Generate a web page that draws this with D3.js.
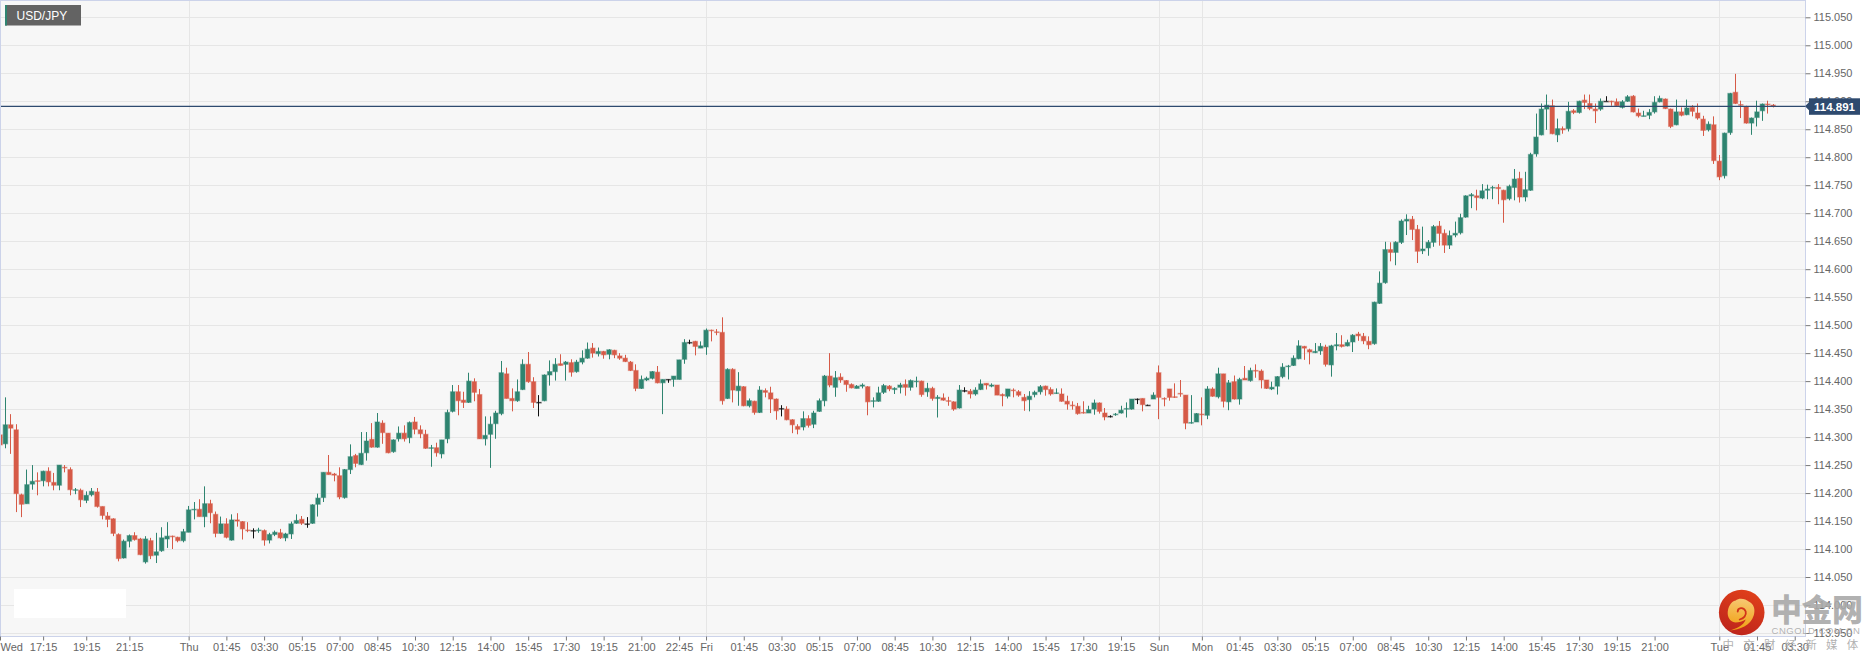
<!DOCTYPE html>
<html><head><meta charset="utf-8">
<script src="https://cdn.jsdelivr.net/npm/d3@7"></script>
<style>html,body{margin:0;padding:0;background:#fff;overflow:hidden}svg{display:block}</style>
</head><body><div id="chart"></div>
<script>
const symbol = "USD/JPY";
const lastPrice = 114.891;
const yTicks = [113.95,114.00,114.05,114.10,114.15,114.20,114.25,114.30,114.35,114.40,114.45,114.50,114.55,114.60,114.65,114.70,114.75,114.80,114.85,114.90,114.95,115.00,115.05];
const xTickBars = [0,8,16,24,35,42,49,56,63,70,77,84,91,98,105,112,119,126,131,138,145,152,159,166,173,180,187,194,201,208,215,223,230,237,244,251,258,265,272,279,286,293,300,307,319,326,333];
const xTickLabels = ["Wed","17:15","19:15","21:15","Thu","01:45","03:30","05:15","07:00","08:45","10:30","12:15","14:00","15:45","17:30","19:15","21:00","22:45","Fri","01:45","03:30","05:15","07:00","08:45","10:30","12:15","14:00","15:45","17:30","19:15","Sun","Mon","01:45","03:30","05:15","07:00","08:45","10:30","12:15","14:00","15:45","17:30","19:15","21:00","Tue","01:45","03:30"];
const dayBars = [35,131,215,223,319];
const opens = [
114.304,114.288,114.322,114.313,114.197,114.181,114.216,114.222,114.222,114.239,
114.219,114.214,114.246,114.242,114.205,114.205,114.187,114.197,114.202,114.176,
114.159,114.154,114.126,114.084,114.114,114.124,114.118,114.077,114.115,114.089,
114.097,114.118,114.123,114.121,114.115,114.130,114.170,114.171,114.158,114.181,
114.162,114.128,114.145,114.116,114.152,114.149,114.134,114.133,114.133,114.133,
114.116,114.126,114.129,114.120,114.127,114.146,114.153,114.145,114.146,114.180,
114.192,114.237,114.234,114.231,114.192,114.242,114.267,114.251,114.272,114.296,
114.282,114.325,114.307,114.274,114.297,114.307,114.299,114.327,114.313,114.305,
114.280,114.281,114.270,114.297,114.346,114.381,114.366,114.362,114.399,114.376,
114.297,114.305,114.324,114.342,114.413,114.369,114.365,114.385,114.430,114.399,
114.362,114.365,114.411,114.417,114.431,114.430,114.433,114.417,114.434,114.441,
114.459,114.449,114.453,114.448,114.455,114.445,114.441,114.434,114.419,114.387,
114.402,114.405,114.416,114.397,114.403,114.403,114.403,114.439,114.469,114.471,
114.459,114.461,114.491,114.488,114.487,114.369,114.421,114.383,114.390,114.356,
114.364,114.344,114.383,114.379,114.368,114.351,114.350,114.331,114.319,114.318,
114.333,114.323,114.346,114.365,114.409,114.389,114.407,114.401,114.394,114.387,
114.391,114.390,114.364,114.364,114.380,114.391,114.385,114.389,114.394,114.389,
114.399,114.400,114.381,114.387,114.369,114.370,114.365,114.363,114.352,114.383,
114.382,114.377,114.385,114.396,114.391,114.393,114.376,114.373,114.384,114.381,
114.371,114.367,114.376,114.381,114.391,114.385,114.378,114.377,114.364,114.357,
114.355,114.344,114.343,114.350,114.361,114.343,114.337,114.340,114.343,114.350,
114.350,114.368,114.369,114.357,114.368,114.415,114.369,114.386,114.372,114.378,
114.375,114.325,114.327,114.341,114.339,114.386,114.372,114.413,114.363,114.399,
114.368,114.405,114.401,114.419,114.418,114.402,114.386,114.391,114.408,114.426,
114.428,114.440,114.462,114.456,114.451,114.454,114.461,114.429,114.463,114.465,
114.463,114.470,114.484,114.480,114.471,114.467,114.539,114.576,114.635,114.630,
114.648,114.686,114.689,114.671,114.633,114.638,114.648,114.677,114.664,114.643,
114.661,114.665,114.693,114.731,114.731,114.727,114.741,114.745,114.746,114.741,
114.726,114.746,114.762,114.729,114.741,114.806,114.840,114.886,114.892,114.840,
114.851,114.851,114.883,114.880,114.902,114.896,114.886,114.886,114.900,114.900,
114.899,114.889,114.900,114.909,114.879,114.873,114.875,114.881,114.899,114.904,
114.886,114.858,114.881,114.876,114.889,114.879,114.868,114.849,114.858,114.793,
114.767,114.844,114.916,114.894,114.890,114.861,114.871,114.883,114.895,114.893];
const highs = [
114.322,114.371,114.341,114.323,114.199,114.242,114.250,114.237,114.240,114.246,
114.236,114.250,114.250,114.246,114.209,114.208,114.203,114.209,114.209,114.176,
114.166,114.155,114.128,114.117,114.126,114.130,114.120,114.123,114.120,114.129,
114.139,114.148,114.124,114.122,114.136,114.177,114.184,114.189,114.212,114.188,
114.167,114.158,114.155,114.162,114.164,114.150,114.148,114.137,114.138,114.135,
114.129,114.133,114.136,114.129,114.149,114.162,114.159,114.157,114.180,114.199,
114.237,114.268,114.236,114.246,114.243,114.287,114.270,114.309,114.309,114.325,
114.343,114.330,114.307,114.296,114.319,114.321,114.328,114.336,114.321,114.313,
114.286,114.290,114.295,114.349,114.393,114.393,114.381,114.415,114.405,114.386,
114.337,114.337,114.347,114.436,114.424,114.387,114.403,114.439,114.452,114.407,
114.375,114.412,114.437,114.441,114.448,114.436,114.439,114.438,114.455,114.469,
114.468,114.460,114.454,114.457,114.456,114.450,114.447,114.436,114.430,114.410,
114.408,114.418,114.427,114.403,114.403,114.409,114.438,114.475,114.474,114.472,
114.471,114.494,114.492,114.493,114.514,114.423,114.423,114.416,114.391,114.369,
114.365,114.391,114.387,114.390,114.369,114.357,114.355,114.332,114.323,114.346,
114.339,114.347,114.369,114.411,114.450,114.418,114.414,114.402,114.396,114.393,
114.396,114.391,114.371,114.390,114.395,114.393,114.389,114.397,114.403,114.403,
114.408,114.401,114.397,114.390,114.375,114.378,114.372,114.364,114.393,114.389,
114.386,114.389,114.403,114.396,114.396,114.393,114.378,114.386,114.387,114.384,
114.377,114.382,114.383,114.393,114.392,114.389,114.387,114.387,114.374,114.364,
114.361,114.364,114.356,114.367,114.362,114.352,114.339,114.343,114.356,114.362,
114.368,114.369,114.369,114.358,114.380,114.428,114.371,114.386,114.396,114.402,
114.375,114.375,114.343,114.371,114.391,114.389,114.424,114.413,114.402,114.410,
114.406,114.427,114.424,114.430,114.421,114.402,114.399,114.409,114.432,114.429,
114.446,114.473,114.463,114.458,114.468,114.468,114.465,114.465,114.486,114.482,
114.474,114.484,114.488,114.486,114.480,114.542,114.596,114.649,114.648,114.650,
114.689,114.698,114.695,114.679,114.676,114.652,114.679,114.686,114.671,114.669,
114.685,114.699,114.732,114.736,114.742,114.752,114.751,114.749,114.752,114.742,
114.751,114.779,114.774,114.774,114.808,114.878,114.896,114.912,114.903,114.869,
114.855,114.899,114.886,114.901,114.912,114.912,114.896,114.905,114.909,114.901,
114.905,114.902,114.911,114.911,114.887,114.883,114.886,114.909,114.910,114.905,
114.887,114.903,114.889,114.903,114.893,114.896,114.874,114.864,114.873,114.804,
114.844,114.915,114.949,114.901,114.892,114.871,114.901,114.896,114.901,114.895];
const lows = [
114.282,114.280,114.270,114.166,114.157,114.181,114.206,114.196,114.212,114.212,
114.205,114.205,114.237,114.196,114.198,114.175,114.182,114.194,114.174,114.153,
114.139,114.123,114.078,114.083,114.103,114.115,114.089,114.074,114.082,114.075,
114.095,114.102,114.100,114.112,114.112,114.130,114.153,114.158,114.139,114.146,
114.121,114.127,114.119,114.115,114.140,114.117,114.130,114.119,114.129,114.106,
114.110,114.123,114.118,114.114,114.118,114.145,114.143,114.138,114.145,114.158,
114.184,114.233,114.221,114.189,114.190,114.234,114.246,114.250,114.258,114.281,
114.281,114.288,114.271,114.272,114.292,114.292,114.289,114.305,114.298,114.279,
114.247,114.265,114.262,114.289,114.344,114.339,114.352,114.361,114.364,114.297,
114.285,114.245,114.297,114.339,114.369,114.346,114.363,114.384,114.397,114.352,
114.337,114.364,114.392,114.401,114.428,114.401,114.408,114.415,114.430,114.440,
114.442,114.444,114.440,114.439,114.441,114.438,114.434,114.418,114.382,114.386,
114.400,114.403,114.396,114.341,114.397,114.390,114.403,114.431,114.466,114.446,
114.459,114.447,114.471,114.482,114.358,114.368,114.362,114.356,114.355,114.353,
114.340,114.343,114.371,114.343,114.331,114.337,114.330,114.307,114.305,114.312,
114.317,114.316,114.345,114.355,114.389,114.372,114.397,114.381,114.387,114.387,
114.387,114.339,114.353,114.363,114.377,114.382,114.377,114.378,114.374,114.383,
114.389,114.372,114.372,114.365,114.335,114.365,114.356,114.347,114.351,114.380,
114.369,114.374,114.384,114.385,114.389,114.375,114.355,114.369,114.371,114.372,
114.347,114.346,114.371,114.376,114.374,114.374,114.377,114.363,114.349,114.349,
114.340,114.342,114.343,114.340,114.342,114.330,114.335,114.338,114.342,114.335,
114.349,114.359,114.346,114.356,114.368,114.332,114.355,114.365,114.370,114.372,
114.314,114.324,114.327,114.321,114.332,114.372,114.369,114.353,114.348,114.367,
114.358,114.402,114.399,114.406,114.387,114.386,114.384,114.376,114.405,114.403,
114.427,114.439,114.438,114.430,114.450,114.447,114.426,114.408,114.455,114.460,
114.462,114.452,114.472,114.466,114.457,114.465,114.538,114.574,114.614,114.607,
114.645,114.661,114.652,114.611,114.627,114.624,114.640,114.642,114.629,114.636,
114.657,114.662,114.692,114.709,114.705,114.725,114.725,114.725,114.716,114.683,
114.723,114.723,114.719,114.721,114.740,114.801,114.839,114.849,114.841,114.827,
114.842,114.846,114.877,114.878,114.886,114.884,114.861,114.883,114.900,114.892,
114.890,114.887,114.899,114.880,114.871,114.873,114.868,114.878,114.898,114.886,
114.852,114.857,114.873,114.875,114.873,114.867,114.838,114.846,114.788,114.759,
114.762,114.840,114.895,114.870,114.860,114.840,114.855,114.865,114.878,114.889];
const closes = [
114.286,114.322,114.316,114.199,114.180,114.215,114.221,114.221,114.239,114.220,
114.214,114.250,114.245,114.206,114.206,114.188,114.196,114.203,114.176,114.160,
114.153,114.128,114.083,114.114,114.124,114.117,114.090,114.118,114.088,114.095,
114.120,114.123,114.122,114.115,114.131,114.170,114.171,114.158,114.181,114.165,
114.128,114.145,114.121,114.152,114.150,114.136,114.133,114.133,114.134,114.116,
114.126,114.130,114.120,114.127,114.145,114.151,114.146,114.145,114.179,114.191,
114.237,114.233,114.232,114.193,114.242,114.265,114.253,114.271,114.293,114.282,
114.327,114.308,114.272,114.295,114.307,114.297,114.326,114.314,114.306,114.280,
114.281,114.272,114.295,114.344,114.381,114.365,114.362,114.400,114.380,114.297,
114.303,114.323,114.343,114.415,114.369,114.365,114.381,114.430,114.399,114.362,
114.362,114.411,114.417,114.430,114.428,114.434,114.416,114.434,114.441,114.457,
114.450,114.453,114.447,114.456,114.447,114.441,114.435,114.419,114.387,114.403,
114.405,114.417,114.397,114.403,114.403,114.409,114.438,114.469,114.469,114.462,
114.463,114.491,114.490,114.487,114.365,114.421,114.384,114.391,114.356,114.365,
114.344,114.384,114.380,114.368,114.347,114.351,114.331,114.322,114.314,114.333,
114.321,114.343,114.365,114.409,114.393,114.406,114.402,114.394,114.388,114.391,
114.393,114.363,114.365,114.379,114.392,114.386,114.387,114.393,114.389,114.401,
114.400,114.376,114.387,114.369,114.371,114.366,114.364,114.350,114.384,114.383,
114.377,114.384,114.395,114.393,114.393,114.375,114.374,114.386,114.383,114.375,
114.365,114.373,114.380,114.390,114.385,114.377,114.379,114.364,114.359,114.356,
114.342,114.343,114.349,114.361,114.346,114.336,114.337,114.341,114.348,114.351,
114.368,114.368,114.358,114.357,114.375,114.371,114.368,114.371,114.371,114.377,
114.325,114.326,114.342,114.340,114.386,114.373,114.413,114.364,114.397,114.368,
114.403,114.402,114.419,114.418,114.402,114.387,114.389,114.408,114.425,114.427,
114.441,114.463,114.459,114.452,114.453,114.462,114.430,114.463,114.465,114.462,
114.469,114.482,114.481,114.472,114.465,114.541,114.575,114.635,114.630,114.648,
114.686,114.689,114.671,114.632,114.636,114.648,114.676,114.664,114.643,114.660,
114.664,114.692,114.731,114.733,114.728,114.740,114.743,114.746,114.744,114.724,
114.748,114.761,114.729,114.742,114.805,114.836,114.886,114.893,114.842,114.851,
114.849,114.882,114.880,114.900,114.898,114.887,114.883,114.900,114.900,114.899,
114.892,114.899,114.908,114.881,114.874,114.874,114.880,114.898,114.905,114.887,
114.855,114.881,114.875,114.888,114.882,114.870,114.848,114.859,114.794,114.765,
114.843,114.914,114.896,114.893,114.861,114.870,114.881,114.895,114.894,114.891];
const watermarkName = "中金网", watermarkSite = "CNGOLD.COM.CN", watermarkSlogan = "中文财经新媒体";

const W = 1876, H = 662, plotR = 1805.5, plotB = 636.5;
const UP = "#2e8470", DOWN = "#d65a47", FLAT = "#111111";
const FONT = "Arial, 'Liberation Sans', sans-serif";

const svg = d3.select("#chart").append("svg").attr("width", W).attr("height", H);
const x = d3.scaleLinear().domain([0, 335]).range([0, plotR]);
const y = d3.scaleLinear().domain([113.95, 115.05]).range([633, 17.3]);

svg.append("rect").attr("x",0.5).attr("y",0.5).attr("width",plotR-0.5).attr("height",plotB-0.5)
  .attr("fill","#f7f7f7").attr("stroke","#ccd3ea").attr("stroke-width",1);

const clipId = "plotClip";
svg.append("clipPath").attr("id",clipId).append("rect").attr("x",1).attr("y",1).attr("width",plotR-1).attr("height",plotB-1);
const plot = svg.append("g").attr("clip-path",`url(#${clipId})`);

plot.append("g").selectAll("line").data(yTicks).join("line")
  .attr("x1",0).attr("x2",plotR).attr("y1",d=>Math.round(y(d))+0.5).attr("y2",d=>Math.round(y(d))+0.5)
  .attr("stroke","#e6e6e6");
plot.append("g").selectAll("line").data(dayBars).join("line")
  .attr("y1",0).attr("y2",plotB).attr("x1",d=>Math.round(x(d))+0.5).attr("x2",d=>Math.round(x(d))+0.5)
  .attr("stroke","#e6e6e6");

const bars = d3.range(opens.length);
const colour = i => closes[i] > opens[i] ? UP : closes[i] < opens[i] ? DOWN : FLAT;
const cg = plot.append("g");
cg.selectAll("line").data(bars).join("line")
  .attr("x1",i=>Math.floor(x(i))+0.5).attr("x2",i=>Math.floor(x(i))+0.5)
  .attr("y1",i=>y(highs[i])).attr("y2",i=>y(lows[i]))
  .attr("stroke",colour).attr("stroke-width",1);
cg.selectAll("rect").data(bars).join("rect")
  .attr("x",i=>x(i)-2.2).attr("width",4.4)
  .attr("y",i=>y(Math.max(opens[i],closes[i])))
  .attr("height",i=>Math.max(0.6,Math.abs(y(opens[i])-y(closes[i]))))
  .attr("fill",colour).attr("stroke",colour).attr("stroke-opacity",0.45).attr("stroke-width",1.2)
  .attr("paint-order","stroke");

// current price line
plot.append("line").attr("x1",0).attr("x2",plotR).attr("y1",y(lastPrice)).attr("y2",y(lastPrice))
  .attr("stroke","#2e4a6f").attr("stroke-width",1.3);

// y axis
const yAxis = svg.append("g").attr("transform",`translate(${plotR},0)`)
  .call(d3.axisRight(y).tickValues(yTicks).tickSize(5).tickPadding(3).tickFormat(d3.format(".3f")));
yAxis.select(".domain").remove();
yAxis.selectAll("line").attr("stroke","#777");
yAxis.selectAll("text").attr("fill","#666").attr("font-size",11).attr("font-family",FONT);

// x axis
const xAxis = svg.append("g").attr("transform",`translate(0,${plotB})`)
  .call(d3.axisBottom(x).tickValues(xTickBars).tickSize(4).tickPadding(3).tickFormat((d,i)=>xTickLabels[i]));
xAxis.select(".domain").remove();
xAxis.selectAll("line").attr("stroke","#777");
xAxis.selectAll("text").attr("fill","#666").attr("font-size",11).attr("font-family",FONT)
  .attr("text-anchor",(d,i)=>i===0?"start":"middle");

// last price label
const ly = y(lastPrice);
svg.append("path").attr("d",`M1805,${ly} L1809.5,${ly-4.5} L1809.5,${ly+4.5} Z`).attr("fill","#2e4a6f");
svg.append("rect").attr("x",1809).attr("y",ly-8).attr("width",51).attr("height",16.5).attr("fill","#2e4a6f");
svg.append("text").attr("x",1834.5).attr("y",ly+4.3).attr("text-anchor","middle")
  .attr("fill","#fff").attr("font-family",FONT).attr("font-size",11.5).attr("font-weight","bold").text(lastPrice.toFixed(3));

// symbol tag
svg.append("rect").attr("x",5).attr("y",5).attr("width",76).attr("height",20.5).attr("fill","#636363");
svg.append("rect").attr("x",5).attr("y",5).attr("width",2).attr("height",20.5).attr("fill","#2f8471");
svg.append("text").attr("x",16.5).attr("y",20).attr("fill","#fff").attr("font-family",FONT).attr("font-size",12).text(symbol);

// blank patch
svg.append("rect").attr("x",14).attr("y",589).attr("width",112).attr("height",29).attr("fill","#fff");

// watermark
const defs = svg.append("defs");
const rg = defs.append("linearGradient").attr("id","logoRed").attr("x1",0.7).attr("y1",0).attr("x2",0.3).attr("y2",1);
rg.append("stop").attr("offset","0").attr("stop-color","#e0401a");
rg.append("stop").attr("offset","1").attr("stop-color","#bd241c");
const gg = defs.append("linearGradient").attr("id","logoGold").attr("x1",0.5).attr("y1",0).attr("x2",0.4).attr("y2",1);
gg.append("stop").attr("offset","0").attr("stop-color","#f6c873");
gg.append("stop").attr("offset","0.55").attr("stop-color","#f4b13a");
gg.append("stop").attr("offset","1").attr("stop-color","#efa012");
const wm = svg.append("g");
wm.append("circle").attr("cx",1741.7).attr("cy",612.5).attr("r",22.8).attr("fill","url(#logoRed)");
const swirl = wm.append("g").attr("transform","translate(1741.7,612.5)");
swirl.append("path")
  .attr("d","M-12,18 C-2,17 9,13 12,3 C14,-3 12,-9 7,-11 C4,-14 -3,-15 -6,-12 C-11,-11 -14,-5 -14,1 C-14,6 -10,10 -6,10 C-3,10 1,9 4,7 C2,13 -5,16 -12,18 Z")
  .attr("fill","url(#logoGold)");
swirl.append("path")
  .attr("d","M-4,-1 C-4,-5 2,-6 4,-1 C5,3 2,6 -2,7")
  .attr("fill","none").attr("stroke","#d2341a").attr("stroke-width",1.8).attr("stroke-linecap","round");
wm.selectAll("text.nm").data(Array.from(watermarkName)).join("text").attr("class","nm")
  .attr("x",(d,i)=>1771+i*30.5).attr("y",621)
  .style("font-family","'Noto Sans CJK SC'").style("font-weight",900).style("font-size","31px")
  .attr("fill","#a9a9a9").attr("fill-opacity",0.92).text(d=>d);
wm.append("text").attr("x",1771.5).attr("y",633.5).attr("font-family",FONT)
  .attr("font-size",9.5).attr("letter-spacing",0.55).attr("fill","#aaaaaa").attr("fill-opacity",0.9).text(watermarkSite);
wm.selectAll("text.sl").data(Array.from(watermarkSlogan)).join("text").attr("class","sl")
  .attr("x",(d,i)=>1722.5+i*20.7).attr("y",648.5).attr("font-family","'Noto Sans CJK SC'")
  .attr("font-size",11.5).attr("fill","#a8a8a8").attr("fill-opacity",0.9).text(d=>d);
</script></body></html>
